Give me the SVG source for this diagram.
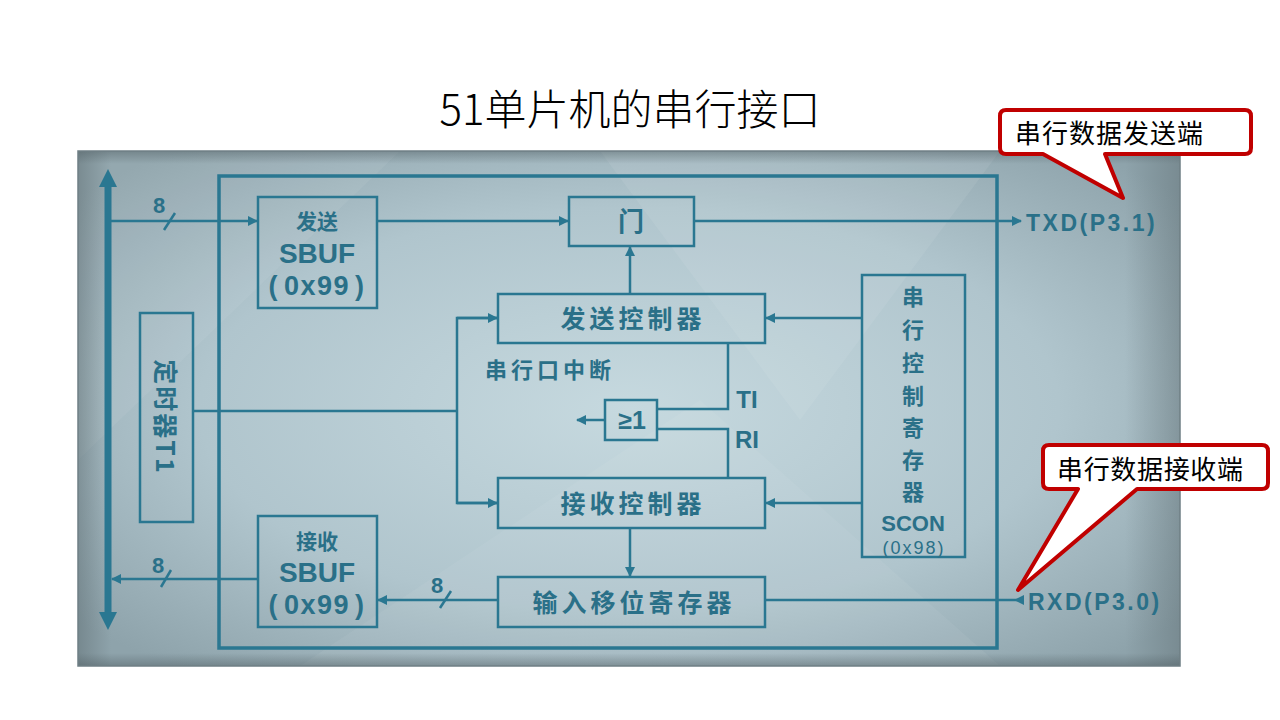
<svg xmlns="http://www.w3.org/2000/svg" width="1280" height="720" viewBox="0 0 1280 720">
<defs>
<radialGradient id="bg" cx="0.5" cy="0.5" r="0.65">
<stop offset="0" stop-color="#c6d9df"/>
<stop offset="0.6" stop-color="#b0c5cd"/>
<stop offset="1" stop-color="#8ea3ab"/>
</radialGradient>
<linearGradient id="edge" x1="0" y1="0" x2="1" y2="0">
<stop offset="0" stop-color="#5f6e73" stop-opacity="0.5"/>
<stop offset="0.03" stop-color="#5f6e73" stop-opacity="0"/>
<stop offset="0.95" stop-color="#5f6e73" stop-opacity="0"/>
<stop offset="1" stop-color="#5f6e73" stop-opacity="0.45"/>
</linearGradient>
<linearGradient id="topedge" x1="0" y1="0" x2="0" y2="1">
<stop offset="0" stop-color="#4f5d62" stop-opacity="0.45"/>
<stop offset="0.025" stop-color="#4f5d62" stop-opacity="0"/>
<stop offset="0.975" stop-color="#4f5d62" stop-opacity="0"/>
<stop offset="1" stop-color="#4f5d62" stop-opacity="0.45"/>
</linearGradient>
<marker id="ah" viewBox="0 0 10 10" refX="9" refY="5" markerWidth="10" markerHeight="10" markerUnits="userSpaceOnUse" orient="auto">
<path d="M0,0 L10,5 L0,10 Z" fill="#2a7791"/>
</marker>
<style>
.ln{stroke:#2a7791;stroke-width:2.5;fill:none}
.bx{stroke:#2a7791;stroke-width:2.5;fill:none}
.t{font-family:"Noto Sans CJK SC","DejaVu Sans",sans-serif;font-weight:bold;fill:#2a7088;text-anchor:middle}
.l{font-family:"Liberation Sans","Noto Sans CJK SC",sans-serif;font-weight:bold;fill:#2a7088;text-anchor:middle}
.c{font-family:"Liberation Serif","Noto Sans CJK SC",serif;fill:#000;font-size:26px}
.callout{fill:#fff;stroke:#c00000;stroke-width:4;stroke-linejoin:round}
</style>
</defs>
<rect width="1280" height="720" fill="#fff"/>
<text x="630" y="125" font-family="'Noto Sans CJK SC',sans-serif" font-weight="300" font-size="42" text-anchor="middle" fill="#000">51单片机的串行接口</text>

<g id="panel">
<rect x="78" y="151" width="1102" height="515" fill="url(#bg)"/>
<polygon points="78,151 400,151 78,460" fill="#ffffff" opacity="0.06"/>
<polygon points="600,151 1000,151 800,420" fill="#ffffff" opacity="0.07"/>
<polygon points="300,666 700,400 1000,666" fill="#ffffff" opacity="0.05"/>
<rect x="78" y="151" width="1102" height="515" fill="url(#edge)"/>
<rect x="78" y="151" width="1102" height="515" fill="url(#topedge)"/>
<rect x="78" y="151" width="1102" height="515" fill="none" stroke="#6f7f85" stroke-width="1.5"/>
</g>

<g id="bus">
<line x1="108" y1="185" x2="108" y2="614" stroke="#2a7791" stroke-width="7"/>
<polygon points="108,169 99,187 117,187" fill="#2a7791"/>
<polygon points="108,630 99,612 117,612" fill="#2a7791"/>
</g>

<g id="frame"><rect x="219" y="176" width="778" height="472" fill="none" stroke="#2a7791" stroke-width="3.5"/></g>

<g id="send-sbuf">
<rect class="bx" x="258" y="197" width="119" height="111"/>
<text class="t" x="317" y="229" font-size="21">发送</text>
<text class="l" x="317" y="263" font-size="28">SBUF</text>
<text class="l" x="317" y="295" font-size="27" letter-spacing="1.5">(<tspan dx="5">0x99</tspan><tspan dx="5">)</tspan></text>
</g>

<g id="gate">
<rect class="bx" x="569" y="197" width="125" height="49"/>
<text class="t" x="631" y="231" font-size="26">门</text>
</g>

<g id="send-ctrl">
<rect class="bx" x="498" y="294" width="267" height="49"/>
<text class="t" x="633" y="328" font-size="25" letter-spacing="4">发送控制器</text>
</g>

<g id="timer">
<rect class="bx" x="140" y="313" width="53" height="209"/>
<text class="t" transform="translate(156,417) rotate(90)" x="0" y="0" font-size="25" letter-spacing="2">定时器T1</text>
</g>

<g id="or-gate">
<rect class="bx" x="605" y="400" width="52" height="40"/>
<text class="l" x="632" y="429" font-size="25">≥1</text>
</g>

<g id="recv-ctrl">
<rect class="bx" x="498" y="478" width="267" height="50"/>
<text class="t" x="633" y="513" font-size="25" letter-spacing="4">接收控制器</text>
</g>

<g id="shift-reg">
<rect class="bx" x="498" y="577" width="267" height="50"/>
<text class="t" x="634" y="612" font-size="25" letter-spacing="4">输入移位寄存器</text>
</g>

<g id="recv-sbuf">
<rect class="bx" x="258" y="516" width="119" height="111"/>
<text class="t" x="317" y="549" font-size="21">接收</text>
<text class="l" x="317" y="582" font-size="28">SBUF</text>
<text class="l" x="317" y="614" font-size="27" letter-spacing="1.5">(<tspan dx="5">0x99</tspan><tspan dx="5">)</tspan></text>
</g>

<g id="scon">
<rect class="bx" x="862" y="275" width="103" height="282"/>
<text class="t" x="913" y="305" font-size="22">串</text>
<text class="t" x="913" y="338" font-size="22">行</text>
<text class="t" x="913" y="371" font-size="22">控</text>
<text class="t" x="913" y="404" font-size="22">制</text>
<text class="t" x="913" y="436" font-size="22">寄</text>
<text class="t" x="913" y="468" font-size="22">存</text>
<text class="t" x="913" y="500" font-size="22">器</text>
<text class="l" x="913" y="531" font-size="22">SCON</text>
<text class="l" x="914" y="554" font-size="18" letter-spacing="2" style="font-weight:normal">(0x98)</text>
</g>

<g id="connectors">
<line class="ln" x1="111" y1="221" x2="257" y2="221" marker-end="url(#ah)"/>
<line class="ln" x1="377" y1="221" x2="568" y2="221" marker-end="url(#ah)"/>
<line class="ln" x1="694" y1="221" x2="1021" y2="221" marker-end="url(#ah)"/>
<line class="ln" x1="630" y1="294" x2="630" y2="247" marker-end="url(#ah)"/>
<line class="ln" x1="193" y1="411" x2="457" y2="411"/>
<polyline class="ln" points="497,318 457,318 457,503 497,503"/>
<line class="ln" x1="457" y1="318" x2="497" y2="318" marker-end="url(#ah)"/>
<line class="ln" x1="457" y1="503" x2="497" y2="503" marker-end="url(#ah)"/>
<line class="ln" x1="862" y1="318" x2="766" y2="318" marker-end="url(#ah)"/>
<line class="ln" x1="862" y1="503" x2="766" y2="503" marker-end="url(#ah)"/>
<polyline class="ln" points="728,343 728,409 657,409"/>
<polyline class="ln" points="728,478 728,429 657,429"/>
<line class="ln" x1="605" y1="420" x2="577" y2="420" marker-end="url(#ah)"/>
<line class="ln" x1="630" y1="528" x2="630" y2="576" marker-end="url(#ah)"/>
<line class="ln" x1="498" y1="600" x2="378" y2="600" marker-end="url(#ah)"/>
<line class="ln" x1="258" y1="579" x2="112" y2="579" marker-end="url(#ah)"/>
<line class="ln" x1="765" y1="600" x2="1022" y2="600"/>
<polygon points="1014,600 1024,595 1024,605" fill="#2a7791"/>
<line class="ln" x1="164" y1="230" x2="175" y2="213"/>
<line class="ln" x1="440" y1="608" x2="451" y2="591"/>
<line class="ln" x1="161" y1="587" x2="171" y2="570"/>
</g>

<g id="labels">
<text class="l" x="159" y="213" font-size="22">8</text>
<text class="l" x="437" y="593" font-size="22">8</text>
<text class="l" x="158" y="573" font-size="22">8</text>
<text class="t" x="550" y="378" font-size="22" letter-spacing="4">串行口中断</text>
<text class="l" x="747" y="408" font-size="24">TI</text>
<text class="l" x="747" y="448" font-size="24">RI</text>
<text class="l" x="1026" y="231" font-size="23" letter-spacing="2.5" style="text-anchor:start">TXD(P3.1)</text>
<text class="l" x="1028" y="610" font-size="23" letter-spacing="2.5" style="text-anchor:start">RXD(P3.0)</text>
</g>

<g id="callout-tx">
<path class="callout" d="M1006,110 L1245,110 Q1251,110 1251,116 L1251,148 Q1251,154 1245,154 L1105,154 L1123,198 L1043,154 L1006,154 Q1000,154 1000,148 L1000,116 Q1000,110 1006,110 Z"/>
<text class="c" x="1015" y="143" font-size="27" textLength="188" lengthAdjust="spacing">串行数据发送端</text>
</g>

<g id="callout-rx">
<path class="callout" d="M1049,445 L1262,445 Q1268,445 1268,451 L1268,483 Q1268,489 1262,489 L1137,489 L1018,590 L1078,489 L1049,489 Q1043,489 1043,483 L1043,451 Q1043,445 1049,445 Z"/>
<text class="c" x="1057" y="479" font-size="27" textLength="186" lengthAdjust="spacing">串行数据接收端</text>
</g>
</svg>
